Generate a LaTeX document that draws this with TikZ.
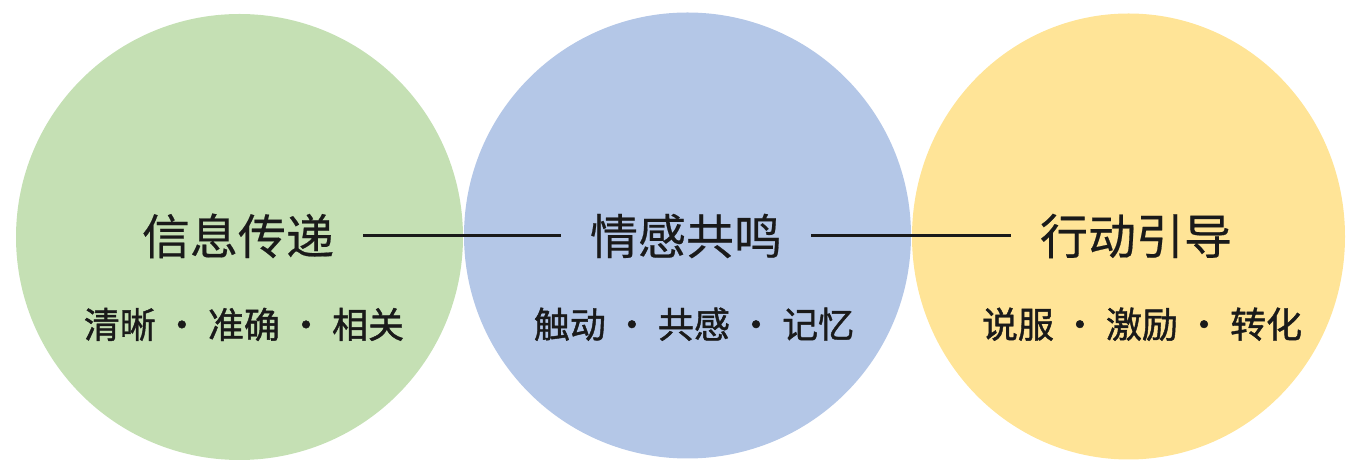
\documentclass[tikz,border=0pt]{standalone}
\usepackage{fontspec}
\newfontfamily\cjk[FakeBold=0.4]{Noto Sans CJK SC}
\newfontfamily\cjksub[FakeBold=1.2]{Noto Sans CJK SC}
\usetikzlibrary{positioning,shapes.geometric}
\definecolor{bubblegreen}{HTML}{C5E0B4}
\definecolor{bubbleblue}{HTML}{B4C7E7}
\definecolor{bubbleyellow}{HTML}{FFE497}
\definecolor{inkdark}{HTML}{1A1A1A}
\tikzstyle{bubble}=[ellipse,inner sep=0pt,minimum width=447pt,minimum height=446pt]
\tikzstyle{title text}=[inner sep=0pt,text=inkdark,font=\cjk\fontsize{48}{48}\selectfont]
\tikzstyle{sub text}=[inner sep=0pt,text=inkdark,font=\cjksub\fontsize{36}{36}\selectfont]
\tikzstyle{link}=[line width=3pt,draw=inkdark,shorten <=29pt,shorten >=29pt]
\newcommand{\bubblenode}[3][]{
  \node [bubble, #1] (#2) {#3}
}
\newcommand{\titlenode}[3][]{
  \node [title text, #1] (#2) {#3}
}

\begin{document}
\begin{tikzpicture}[x=1pt,y=1pt,node distance=49pt]
  \useasboundingbox (0,0) rectangle (1347,462);
  \bubblenode[fill=bubblegreen,at={(239.5,225)}]{bgreen}{};
  \bubblenode[fill=bubbleblue,at={(687.5,226.5)}]{bblue}{};
  \bubblenode[fill=bubbleyellow,at={(1128.5,225.5)},minimum width=433pt]{byellow}{};

  \titlenode[at={(238,226)}]{tinfo}{信息传递};
  \titlenode[at={(686,226)}]{temo}{情感共鸣};
  \titlenode[at={(1136,226)}]{tact}{行动引导};
      \draw[link] (tinfo) -- (temo);
      \draw[link] (temo) -- (tact);

  \node[sub text,below=of tinfo,xshift=6pt] (sinfo) {清晰 · 准确 · 相关};
  \node[sub text,below=of temo,xshift=8pt] (semo) {触动 · 共感 · 记忆};
  \node[sub text,below=of tact,xshift=6pt] (sact) {说服 · 激励 · 转化};
\end{tikzpicture}
\end{document}
